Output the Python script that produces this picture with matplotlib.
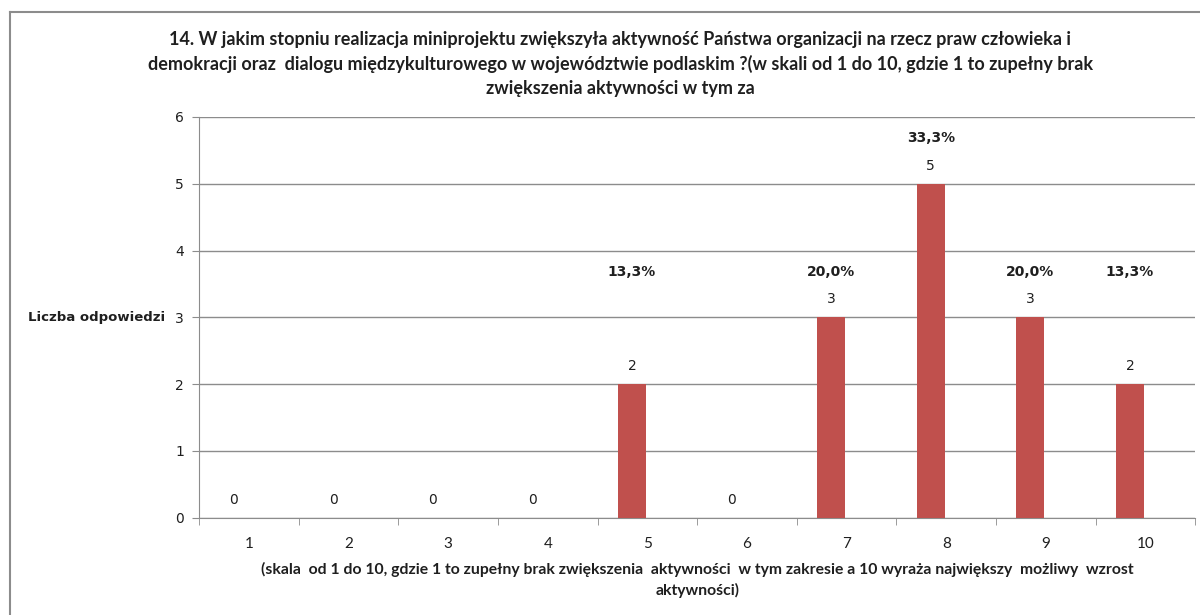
import matplotlib.pyplot as plt
from matplotlib.lines import Line2D

# data
categories = ["1", "2", "3", "4", "5", "6", "7", "8", "9", "10"]
counts = [0, 0, 0, 0, 2, 0, 3, 5, 3, 2]
percent_labels = ["", "", "", "", "13,3%", "", "20,0%", "33,3%", "20,0%", "13,3%"]

title = ("14. W jakim stopniu realizacja miniprojektu zwiększyła aktywność Państwa organizacji na rzecz praw człowieka i\n"
         "demokracji oraz  dialogu międzykulturowego w województwie podlaskim ?(w skali od 1 do 10, gdzie 1 to zupełny brak\n"
         "zwiększenia aktywności w tym za")
xlabel = ("(skala  od 1 do 10, gdzie 1 to zupełny brak zwiększenia  aktywności  w tym zakresie a 10 wyraża największy  możliwy  wzrost\n"
          "aktywności)")
ylabel = "Liczba odpowiedzi"

NARROW = ["Lato", "DejaVu Sans"]
BAR_C = "#C0504D"
GRID_C = "#8C8C8C"
TEXT_C = "#1F1F1F"

fig = plt.figure(figsize=(12, 6.15), dpi=100)
ax = fig.add_axes([0.166, 0.158, 0.830, 0.652])

x = list(range(len(categories)))
bar_x = [i - 0.155 for i in x]
ax.bar(bar_x, counts, width=0.28, color=BAR_C, zorder=3)

for i, v in enumerate(counts):
    ax.annotate(str(v), (bar_x[i], v), xytext=(0, 8), textcoords="offset points",
                ha="center", va="bottom", fontsize=10, color=TEXT_C, family="DejaVu Sans")
    if percent_labels[i]:
        ax.text(bar_x[i], max(v, 3) + 0.68, percent_labels[i], ha="center", va="center",
                fontsize=10, fontweight="bold", color=TEXT_C, family="DejaVu Sans")

ax.set_xlim(-0.5, len(categories) - 0.5)
ax.set_ylim(0, 6)
ax.set_yticks(range(7))
ax.set_xticks(x)
ax.set_xticklabels(categories, family=NARROW, fontsize=11)
ax.set_xticks([i - 0.5 for i in range(len(categories) + 1)], minor=True)
ax.tick_params(axis="x", which="major", length=0, pad=14, colors=TEXT_C)
ax.tick_params(axis="x", which="minor", length=5, color=GRID_C)
ax.tick_params(axis="y", length=5, color=GRID_C, labelsize=10, labelcolor=TEXT_C, pad=6)
ax.grid(axis="y", color=GRID_C, lw=1.0, zorder=0)
for side in ["top", "right"]:
    ax.spines[side].set_visible(False)
for side in ["left", "bottom"]:
    ax.spines[side].set_color(GRID_C)

ax.text(-0.034, 3, ylabel, transform=ax.get_yaxis_transform(), ha="right", va="center",
        fontsize=9.5, fontweight="bold", color=TEXT_C, family="DejaVu Sans")
ax.set_xlabel(xlabel, family=NARROW, fontsize=11.3, fontweight="bold", color=TEXT_C, labelpad=8,
              linespacing=1.45)

fig.text(0.517, 0.95, title, ha="center", va="top", family=NARROW, fontsize=13,
         fontweight="bold", color=TEXT_C, linespacing=1.5)

# outer frame
fig.add_artist(Line2D([0.008, 1.0], [0.98, 0.98], color="#8C8C8C", lw=1.5))
fig.add_artist(Line2D([0.008, 0.008], [0.0, 0.98], color="#8C8C8C", lw=1.5))

fig.savefig("out.png", dpi=100)
